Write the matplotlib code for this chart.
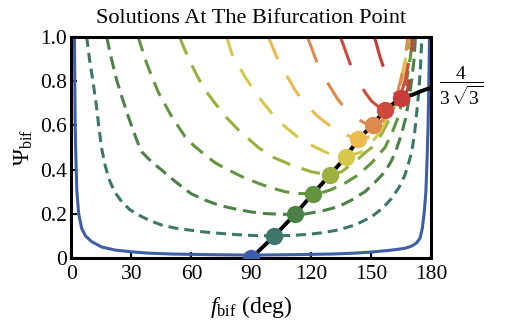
#
# Bifurcation-point solutions: Psi_bif vs f_bif, one dashed curve per parameter
# value, dots where each curve has its minimum (on the black locus)
#
import matplotlib.pyplot as plt

# ---- data (f in deg, Psi) ----
blue_f = [1.5, 1.65, 1.85, 2.2, 2.7, 3.6, 5.1, 7.0, 10.1, 15.0, 21.8, 30.0, 38.4, 50.0, 70.0, 90.0,
          110.0, 130.0, 141.6, 150.0, 158.2, 163.0, 166.75, 170.1, 172.5, 174.25, 175.4, 176.3, 177.2,
          177.8, 178.3, 178.7, 179.0]
blue_psi = [1.0, 0.8, 0.6, 0.45, 0.3, 0.2, 0.134, 0.1, 0.074, 0.05, 0.036, 0.028, 0.022, 0.018, 0.015,
            0.013, 0.015, 0.018, 0.022, 0.027, 0.034, 0.039, 0.044, 0.054, 0.068, 0.089, 0.134, 0.2,
            0.3, 0.45, 0.6, 0.8, 1.0]

teal_f = [7.6, 9.0, 10.7, 12.3, 13.6, 15.0, 16.8, 18.6, 21.5, 25.1, 29.0, 33.4, 39.0, 45.1, 52.0, 58.4,
          66.0, 73.4, 82.0, 90.1, 101.4, 110.0, 118.4, 126.0, 133.4, 142.0, 150.1, 155.5, 160.1, 163.8,
          166.75, 168.6, 170.1, 171.5, 172.6, 173.6, 174.4, 175.2]
teal_psi = [1.0, 0.9, 0.8, 0.7, 0.6, 0.5, 0.42, 0.36, 0.3, 0.255, 0.22, 0.195, 0.17, 0.149, 0.135, 0.127,
            0.118, 0.112, 0.106, 0.102, 0.1, 0.102, 0.107, 0.115, 0.127, 0.15, 0.187, 0.225, 0.27, 0.32,
            0.376, 0.43, 0.481, 0.56, 0.656, 0.75, 0.85, 1.0]

green_f = [17.6, 20.0, 22.6, 25.5, 28.4, 32.6, 35.1, 40.0, 45.1, 50.0, 55.1, 60.0, 66.75, 74.0, 81.75,
           90.0, 96.75, 104.0, 111.7, 116.75, 125.0, 133.4, 140.0, 146.75, 152.0, 156.75, 160.0, 162.6,
           165.0, 167.0, 168.8, 170.3, 171.3, 172.0]
green_psi = [1.0, 0.9, 0.805, 0.72, 0.64, 0.534, 0.481, 0.435, 0.398, 0.36, 0.323, 0.29, 0.262, 0.238,
             0.222, 0.208, 0.201, 0.198, 0.197, 0.199, 0.212, 0.232, 0.262, 0.3, 0.345, 0.39, 0.44, 0.496,
             0.56, 0.63, 0.72, 0.82, 0.9, 1.0]

green2_f = [33.3, 37.6, 43.4, 50.1, 56.7, 61.0, 66.75, 72.0, 78.4, 86.0, 93.4, 100.0, 106.75, 113.0,
            120.6, 125.0, 130.1, 137.0, 143.4, 150.0, 156.75, 160.0, 163.0, 165.5, 167.5, 169.3, 170.7]
green2_psi = [1.0, 0.88, 0.75, 0.64, 0.55, 0.51, 0.466, 0.43, 0.398, 0.365, 0.338, 0.317, 0.3, 0.292,
              0.29, 0.295, 0.31, 0.34, 0.376, 0.43, 0.5, 0.56, 0.63, 0.71, 0.8, 0.9, 1.0]

olive_f = [54.0, 56.75, 61.75, 66.0, 71.75, 77.0, 83.4, 93.4, 101.0, 110.1, 120.0, 129.2, 135.0, 141.75,
           146.0, 150.1, 155.0, 159.0, 162.0, 164.5, 166.5, 168.3, 169.5]
olive_psi = [1.0, 0.94, 0.843, 0.77, 0.7, 0.64, 0.58, 0.5, 0.455, 0.42, 0.39, 0.375, 0.39, 0.436, 0.47,
             0.5, 0.56, 0.63, 0.7, 0.78, 0.86, 0.93, 1.0]

yellow_f = [77.6, 80.1, 83.5, 86.75, 93.0, 100.1, 106.0, 113.4, 120.0, 128.0, 137.2, 145.0, 150.0, 155.0,
            159.0, 162.0, 164.5, 166.5, 168.0, 168.8]
yellow_psi = [1.0, 0.926, 0.87, 0.82, 0.735, 0.655, 0.6, 0.545, 0.51, 0.475, 0.458, 0.48, 0.52, 0.58,
              0.65, 0.72, 0.8, 0.88, 0.95, 1.0]

gold_f = [98.4, 102.6, 107.0, 111.75, 117.0, 123.25, 129.0, 135.1, 143.4, 148.0, 152.0, 156.0, 160.0,
          163.0, 165.5, 167.3, 168.5]
gold_psi = [1.0, 0.91, 0.835, 0.76, 0.695, 0.64, 0.6, 0.564, 0.537, 0.545, 0.57, 0.61, 0.67, 0.74, 0.82,
            0.9, 1.0]

orange_f = [118.0, 122.6, 125.5, 129.25, 133.0, 136.75, 141.0, 146.75, 150.6, 154.0, 157.5, 160.5, 163.0,
            165.0, 166.8, 168.2]
orange_psi = [1.0, 0.888, 0.83, 0.775, 0.72, 0.677, 0.64, 0.61, 0.602, 0.61, 0.64, 0.69, 0.75, 0.82, 0.9,
              1.0]

red1_f = [134.5, 139.25, 143.0, 146.75, 150.0, 153.4, 156.7, 160.0, 162.5, 165.0, 167.0, 168.5, 169.5,
          170.0]
red1_psi = [1.0, 0.88, 0.81, 0.75, 0.71, 0.685, 0.67, 0.675, 0.7, 0.75, 0.81, 0.88, 0.95, 1.0]

red2_f = [151.5, 154.25, 155.9, 158.0, 160.0, 162.0, 164.6, 166.5, 168.0, 169.2, 170.0, 170.5]
red2_psi = [1.0, 0.91, 0.866, 0.81, 0.77, 0.74, 0.723, 0.73, 0.76, 0.82, 0.9, 1.0]

# locus of the minima
black_f = [90.0, 101.4, 111.7, 120.6, 129.2, 137.2, 143.4, 150.6, 156.7, 164.6, 170.9, 174.25, 177.0, 180.0]
black_psi = [0.0, 0.1, 0.197, 0.29, 0.375, 0.458, 0.537, 0.602, 0.67, 0.723, 0.74, 0.753, 0.762, 0.77]

dot_f = [90.0, 101.4, 111.7, 120.6, 129.2, 137.2, 143.4, 150.6, 156.7, 164.6]
dot_psi = [0.0, 0.1, 0.197, 0.29, 0.375, 0.458, 0.537, 0.602, 0.67, 0.723]

xticks = [0, 30, 60, 90, 120, 150, 180]
yticks = [0, 0.2, 0.4, 0.6, 0.8, 1.0]
ytick_labels = ['0', '0.2', '0.4', '0.6', '0.8', '1.0']

# ---- styles ----
c_blue = '#3d5ea8'
dash_curves = [
    (teal_f, teal_psi, '#3d776a', (10, 6)),
    (green_f, green_psi, '#4b8146', (13, 7)),
    (green2_f, green2_psi, '#639540', (15, 9)),
    (olive_f, olive_psi, '#9bb03f', (19, 12)),
    (yellow_f, yellow_psi, '#d6c84a', (20, 15)),
    (gold_f, gold_psi, '#ebbb4d', (24, 19)),
    (orange_f, orange_psi, '#dc8a4e', (27, 23)),
    (red1_f, red1_psi, '#cf4a3e', (30, 27)),
    (red2_f, red2_psi, '#c73c38', (31, 28)),
]
dot_colors = [c_blue] + [c[2] for c in dash_curves]

plt.rcParams['font.family'] = 'Liberation Serif'
plt.rcParams['mathtext.fontset'] = 'custom'
plt.rcParams['mathtext.rm'] = 'Liberation Serif'
plt.rcParams['mathtext.it'] = 'Liberation Serif:italic'

fig = plt.figure(figsize=(5.18, 3.27), dpi=100)
ax = fig.add_axes([0.138, 0.211, 0.695, 0.676])

lw = 2.2
ax.plot(blue_f, blue_psi, color=c_blue, lw=lw, zorder=2)
for f, psi, col, dash in dash_curves:
    # dash lengths given in pixels -> points
    ax.plot(f, psi, color=col, lw=lw, linestyle=(0, (dash[0] * 0.72 / lw, dash[1] * 0.72 / lw)),
            zorder=2)
ax.plot(black_f, black_psi, color='black', lw=2.8, zorder=3)
for f, p, col in zip(dot_f, dot_psi, dot_colors):
    ax.plot(f, p, 'o', color=col, ms=12.5, mec='none', zorder=4)

ax.set_xlim(0, 180)
ax.set_ylim(0, 1)
ax.set_xticks(xticks)
ax.set_yticks(yticks)
ax.set_yticklabels(ytick_labels)
ax.tick_params(direction='in', length=4, width=1.5, labelsize=15.5)
ax.tick_params(axis='x', pad=5)
ax.tick_params(axis='y', pad=3)
for s in ax.spines.values():
    s.set_linewidth(2.2)

ax.set_title('Solutions At The Bifurcation Point', fontsize=16, pad=10)
ax.set_xlabel(r'$f_{\mathrm{bif}}$ (deg)', fontsize=17, labelpad=7)
ax.set_ylabel(r'Ψ$_{\mathrm{bif}}$', fontsize=16.5, labelpad=4)

ax.text(184, 0.78, r'$\dfrac{4}{3\,\sqrt{3}}$', fontsize=14, va='center', ha='left', clip_on=False)

fig.savefig('out.png', dpi=100)
